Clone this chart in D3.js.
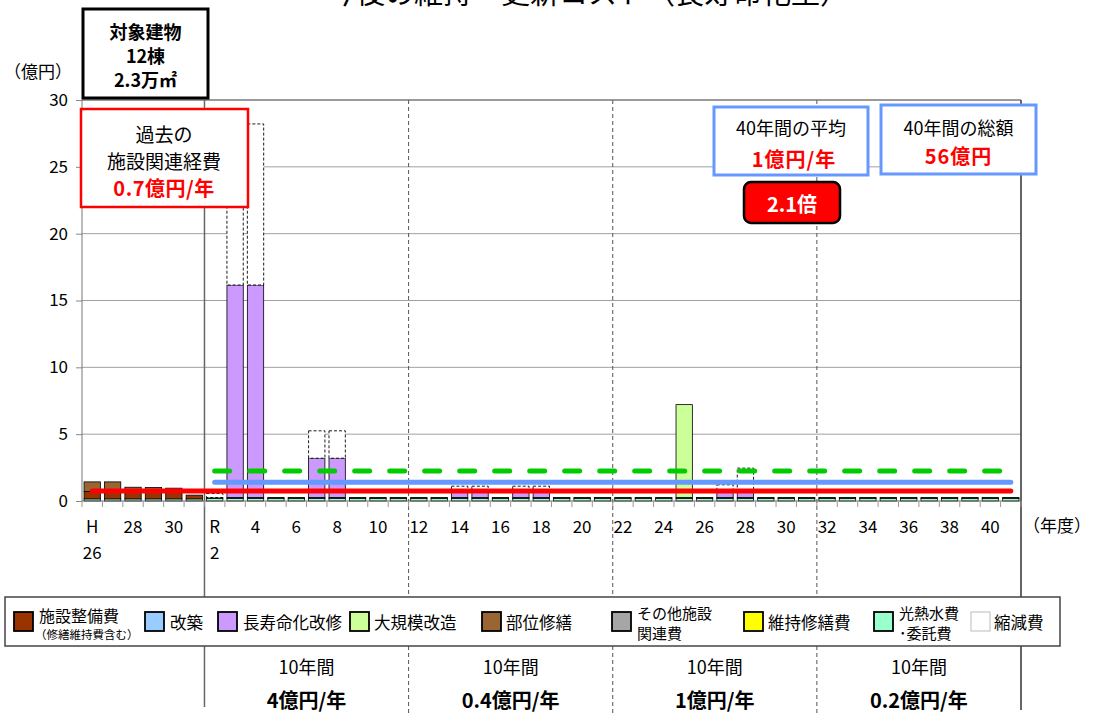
<!DOCTYPE html>
<html><head><meta charset="utf-8">
<script src="https://cdn.jsdelivr.net/npm/d3@7"></script>
<style>
body{margin:0;background:#fff}
svg{display:block}
text{font-family:"Noto Sans CJK JP","Noto Sans",sans-serif;fill:#000}
</style>
</head><body><svg id="c" width="1094" height="713"></svg>
<script>
// ---------- data ----------
const categories = ["H26","H27","H28","H29","H30","R1",
 "R2","R3","R4","R5","R6","R7","R8","R9","R10","R11",
 "R12","R13","R14","R15","R16","R17","R18","R19","R20","R21",
 "R22","R23","R24","R25","R26","R27","R28","R29","R30","R31",
 "R32","R33","R34","R35","R36","R37","R38","R39","R40","R41"];
const tickRow1 = {"H26":"H","H28":"28","H30":"30","R2":"R","R4":"4","R6":"6","R8":"8","R10":"10","R12":"12","R14":"14","R16":"16","R18":"18","R20":"20","R22":"22","R24":"24","R26":"26","R28":"28","R30":"30","R32":"32","R34":"34","R36":"36","R38":"38","R40":"40"};
const tickRow2 = {"H26":"26","R2":"2"};
const yTicks = [0,5,10,15,20,25,30];

const utilities   = [0.16,0.16,0.16,0.16,0.16,0.16, 0.2,0.2,0.2,0.2,0.2,0.2,0.2,0.2,0.2,0.2, 0.2,0.2,0.2,0.2,0.2,0.2,0.2,0.2,0.2,0.2, 0.2,0.2,0.2,0.2,0.2,0.2,0.2,0.2,0.2,0.2, 0.2,0.2,0.2,0.2,0.2,0.2,0.2,0.2,0.2,0.2];
const maintenance = [0,0,0,0,0,0, 0,0,0,0,0,0,0,0,0,0, 0,0,0,0,0,0,0,0,0,0, 0,0,0,0,0,0,0,0,0,0, 0,0,0,0,0,0,0,0,0,0];
const otherCosts  = [0,0,0,0,0,0, 0.06,0.06,0.06,0.06,0.06,0.06,0.06,0.06,0.06,0.06, 0.06,0.06,0.06,0.06,0.06,0.06,0.06,0.06,0.06,0.06, 0.06,0.06,0.06,0.06,0.06,0.06,0.06,0.06,0.06,0.06, 0.06,0.06,0.06,0.06,0.06,0.06,0.06,0.06,0.06,0.06];
const facility    = [0.55,0.5,0.5,0.5,0.5,0.28, 0,0,0,0,0,0,0,0,0,0, 0,0,0,0,0,0,0,0,0,0, 0,0,0,0,0,0,0,0,0,0, 0,0,0,0,0,0,0,0,0,0];
const rebuild     = [0,0,0,0,0,0, 0,0,0,0,0,0,0,0,0,0, 0,0,0,0,0,0,0,0,0,0, 0,0,0,0,0,0,0,0,0,0, 0,0,0,0,0,0,0,0,0,0];
const longLife    = [0,0,0,0,0,0, 0,15.9,15.9,0,0,2.94,2.94,0,0,0, 0,0,0.45,0.45,0,0.45,0.45,0,0,0, 0,0,0,0,0,0.45,0.45,0,0,0, 0,0,0,0,0,0,0,0,0,0];
const largeRenov  = [0,0,0,0,0,0, 0,0,0,0,0,0,0,0,0,0, 0,0,0,0,0,0,0,0,0,0, 0,0,0,6.95,0,0,0,0,0,0, 0,0,0,0,0,0,0,0,0,0];
const partRepair  = [0.72,0.77,0.37,0.35,0.3,0, 0,0,0,0,0,0,0,0,0,0, 0,0,0,0,0,0,0,0,0,0, 0,0,0,0,0,0,0,0,0,0, 0,0,0,0,0,0,0,0,0,0];
const reduction   = [0,0,0,0,0,0, 0.3,12.05,12.05,0,0,2.05,2.05,0,0,0, 0,0,0.4,0.4,0,0.4,0.4,0,0,0, 0,0,0,0,0,0.5,1.75,0,0,0, 0,0,0,0,0,0,0,0,0,0];

const pastAverage = 0.75;   // 過去の施設関連経費
const futureAverage = 1.4;  // 40年間の平均
const futureDashed = 2.24;  // 緑破線

const seriesKeys = ["utilities","maintenance","otherCosts","facility","rebuild","longLife","largeRenov","partRepair","reduction"];
const seriesData = {utilities,maintenance,otherCosts,facility,rebuild,longLife,largeRenov,partRepair,reduction};
const colors = {facility:"#993300",rebuild:"#99ccff",longLife:"#cc99ff",largeRenov:"#ccff99",partRepair:"#996633",otherCosts:"#a6a6a6",maintenance:"#ffff00",utilities:"#99ffcc",reduction:"#ffffff"};

const legendItems = [
 {key:"facility",lines:["施設整備費"],sub:"（修繕維持費含む）",sx:14,tx:39},
 {key:"rebuild",lines:["改築"],sx:145,tx:170},
 {key:"longLife",lines:["長寿命化改修"],sx:218,tx:243},
 {key:"largeRenov",lines:["大規模改造"],sx:350,tx:374},
 {key:"partRepair",lines:["部位修繕"],sx:482,tx:506},
 {key:"otherCosts",lines:["その他施設","関連費"],sx:612,tx:637},
 {key:"maintenance",lines:["維持修繕費"],sx:744,tx:768},
 {key:"utilities",lines:["光熱水費","･委託費"],sx:874,tx:899},
 {key:"reduction",lines:["縮減費"],sx:971,tx:994}
];
const periodTexts = ["4億円/年","0.4億円/年","1億円/年","0.2億円/年"];

// ---------- chart ----------
const svg = d3.select("#c");
const L=82, R=1021, T=100, B=501;
const x = d3.scaleBand().domain(categories).range([L,R]).paddingInner(0.2).paddingOuter(0.1);
const step = x.step();
const y = d3.scaleLinear().domain([0,30]).range([B,T]);
const boundary = i => L + i*step;

// title (clipped at top as in the reference)
svg.append("text").attr("x",588).attr("y",4).attr("text-anchor","middle")
  .attr("font-size",29).text("今後の維持・更新コスト（長寿命化型）");

// gridlines
svg.append("g").selectAll("line").data(yTicks.filter(d=>d>0)).join("line")
  .attr("x1",L).attr("x2",R).attr("y1",d=>y(d)).attr("y2",d=>y(d))
  .attr("stroke","#a0a0a0").attr("stroke-width",1);

// y axis
const yAxis = svg.append("g").attr("transform",`translate(${L},0)`)
  .call(d3.axisLeft(y).tickValues(yTicks).tickSize(6).tickPadding(8));
yAxis.select(".domain").remove();
yAxis.selectAll(".tick line").attr("stroke","#888");
yAxis.selectAll(".tick text").attr("font-size",17).attr("font-family","'Liberation Sans','Noto Sans',sans-serif").attr("fill","#000");
svg.append("line").attr("x1",L).attr("x2",L).attr("y1",T).attr("y2",B).attr("stroke","#777");
svg.append("text").attr("x",4).attr("y",70).attr("dominant-baseline","central").attr("font-size",17).text("（億円）");

// vertical dividers (period)
svg.append("line").attr("x1",boundary(6)).attr("x2",boundary(6)).attr("y1",T).attr("y2",707).attr("stroke","#666").attr("stroke-width",1.5);
svg.append("g").selectAll("line").data([16,26,36]).join("line")
  .attr("x1",d=>boundary(d)).attr("x2",d=>boundary(d)).attr("y1",T).attr("y2",713)
  .attr("stroke","#555").attr("stroke-width",1).attr("stroke-dasharray","4,3");
svg.append("line").attr("x1",R).attr("x2",R).attr("y1",T).attr("y2",710).attr("stroke","#333").attr("stroke-width",1.5);
svg.append("line").attr("x1",L).attr("x2",R).attr("y1",T).attr("y2",T).attr("stroke","#666");

// stacked bars
const rows = categories.map((c,i)=>{const r={cat:c}; seriesKeys.forEach(k=>r[k]=seriesData[k][i]); return r;});
const stacked = d3.stack().keys(seriesKeys)(rows);
const gBars = svg.append("g");
stacked.forEach(s=>{
  gBars.append("g").selectAll("rect").data(s.filter(d=>d[1]-d[0]>0)).join("rect")
    .attr("x",d=>x(d.data.cat)).attr("width",x.bandwidth())
    .attr("y",d=>y(d[1])).attr("height",d=>y(d[0])-y(d[1]))
    .attr("fill",colors[s.key]).attr("stroke","#000").attr("stroke-width",s.key==="reduction"?0.9:0.8)
    .attr("stroke-dasharray",s.key==="reduction"?"3,2":null);
});

// x axis baseline + ticks
svg.append("line").attr("x1",L).attr("x2",R).attr("y1",B).attr("y2",B).attr("stroke","#666");
svg.append("g").selectAll("line").data(d3.range(categories.length+1)).join("line")
  .attr("x1",d=>boundary(d)).attr("x2",d=>boundary(d)).attr("y1",B).attr("y2",B+6)
  .attr("stroke","#999");
const xl = svg.append("g").attr("font-size",17);
xl.selectAll("text.r1").data(categories.filter(c=>tickRow1[c])).join("text").attr("class","r1")
  .attr("x",c=>x(c)+x.bandwidth()/2).attr("y",525).attr("text-anchor","middle").attr("dominant-baseline","central")
  .attr("font-family","'Liberation Sans','Noto Sans',sans-serif").text(c=>tickRow1[c]);
xl.selectAll("text.r2").data(categories.filter(c=>tickRow2[c])).join("text").attr("class","r2")
  .attr("x",c=>x(c)+x.bandwidth()/2).attr("y",551).attr("text-anchor","middle").attr("dominant-baseline","central")
  .attr("font-family","'Liberation Sans','Noto Sans',sans-serif").text(c=>tickRow2[c]);
svg.append("text").attr("x",1023).attr("y",524).attr("dominant-baseline","central").attr("font-size",17).text("（年度）");

// average lines
const cx = c => x(c)+x.bandwidth()/2;
svg.append("line").attr("x1",cx("R2")).attr("x2",cx("R41")).attr("y1",y(futureDashed)).attr("y2",y(futureDashed))
  .attr("stroke","#00cc00").attr("stroke-width",5).attr("stroke-linecap","round").attr("stroke-dasharray","15,20");
svg.append("line").attr("x1",cx("R2")).attr("x2",cx("R41")).attr("y1",y(futureAverage)).attr("y2",y(futureAverage))
  .attr("stroke","#6699ff").attr("stroke-width",5).attr("stroke-linecap","round");
svg.append("line").attr("x1",cx("H26")).attr("x2",cx("R41")).attr("y1",y(pastAverage)).attr("y2",y(pastAverage))
  .attr("stroke","#ff0000").attr("stroke-width",5).attr("stroke-linecap","round");

// annotation boxes
function box(x0,y0,w,h,stroke,sw,fill,rx){
  svg.append("rect").attr("x",x0).attr("y",y0).attr("width",w).attr("height",h)
    .attr("fill",fill).attr("stroke",stroke).attr("stroke-width",sw).attr("rx",rx||0);
}
function txt(xp,yp,s,size,opts){
  opts=opts||{};
  svg.append("text").attr("x",xp).attr("y",yp).attr("text-anchor","middle").attr("dominant-baseline","central")
    .attr("font-size",size).attr("font-weight",opts.bold?"bold":"normal")
    .attr("letter-spacing",opts.ls||0).style("fill",opts.fill||"#000").text(s);
}
box(83,9,125,89,"#000",3,"#fff");
txt(145.5,31,"対象建物",18,{bold:true});
txt(145.5,55,"12棟",18,{bold:true});
txt(145.5,79,"2.3万㎡",18,{bold:true});

box(81,109,167,98,"#ff0000",2.5,"#fff");
txt(164,133,"過去の",19);
txt(164,160,"施設関連経費",19);
txt(164,187,"0.7億円/年",20,{bold:true,fill:"#ff0000",ls:0.5});

box(714,107,154,68,"#6699ff",3,"#fff");
txt(791,127,"40年間の平均",18);
txt(794,158,"1億円/年",20,{bold:true,fill:"#ff0000",ls:1});
box(881,105,155,69,"#6699ff",3,"#fff");
txt(958.5,127,"40年間の総額",18);
txt(958.5,155,"56億円",20,{bold:true,fill:"#ff0000",ls:1});

box(744,182,96,41,"#000",2.5,"#ff0000",7);
txt(792,203,"2.1倍",20,{bold:true,fill:"#fff"});

// legend
svg.append("rect").attr("x",5).attr("y",597).attr("width",1055).attr("height",49)
  .attr("fill","#fff").attr("stroke","#444").attr("stroke-width",1.5);
const lg = svg.append("g");
legendItems.forEach(it=>{
  lg.append("rect").attr("x",it.sx).attr("y",612).attr("width",19).attr("height",19)
    .attr("fill",colors[it.key]).attr("stroke",it.key==="reduction"?"#bbb":"#000").attr("stroke-width",it.key==="reduction"?1:1.8);
  if(it.lines.length===2){
    it.lines.forEach((l,j)=>lg.append("text").attr("x",it.tx).attr("y",612+j*20).attr("dominant-baseline","central").attr("font-size",15).text(l));
  } else if(it.sub){
    lg.append("text").attr("x",it.tx).attr("y",615).attr("dominant-baseline","central").attr("font-size",16).text(it.lines[0]);
    lg.append("text").attr("x",it.tx-4).attr("y",634).attr("dominant-baseline","central").attr("font-size",11.5).text(it.sub);
  } else {
    lg.append("text").attr("x",it.tx).attr("y",622).attr("dominant-baseline","central").attr("font-size",16.5).text(it.lines[0]);
  }
});

// period summary under chart
const periodBounds = [6,16,26,36,46];
periodTexts.forEach((t,i)=>{
  const mid = (boundary(periodBounds[i])+boundary(periodBounds[i+1]))/2;
  txt(mid,666,"10年間",18);
  txt(mid,699,t,20,{bold:true});
});
</script></body></html>
